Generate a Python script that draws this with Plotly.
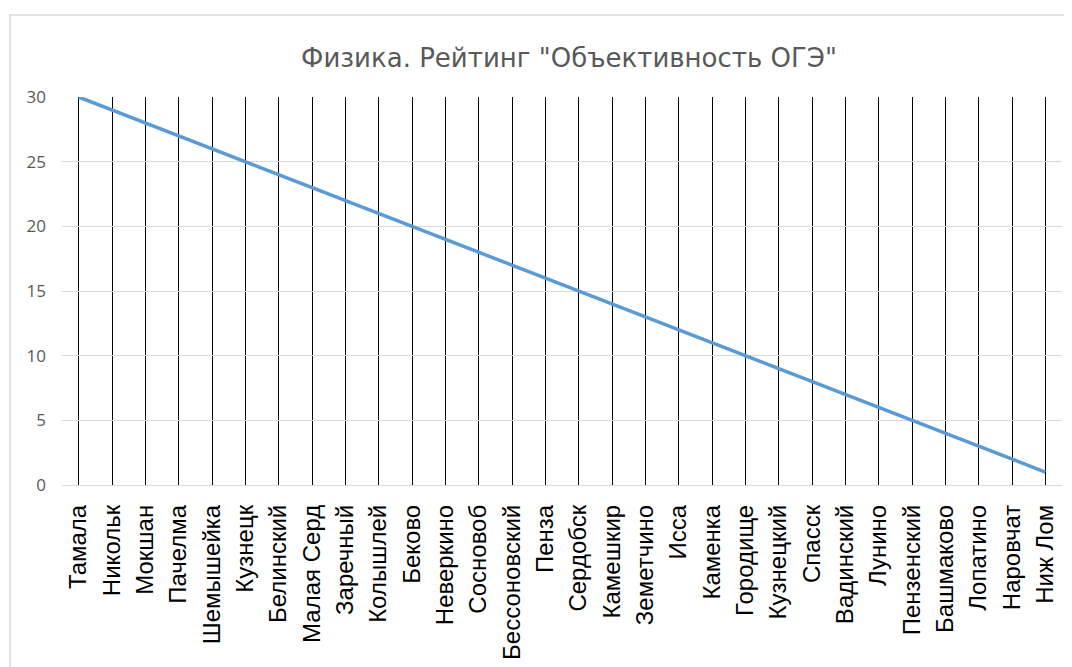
import plotly.graph_objects as go

categories = ["Тамала", "Никольк", "Мокшан", "Пачелма", "Шемышейка", "Кузнецк",
              "Белинский", "Малая Серд", "Заречный", "Колышлей", "Беково", "Неверкино",
              "Сосновоб", "Бессоновский", "Пенза", "Сердобск", "Камешкир", "Земетчино",
              "Исса", "Каменка", "Городище", "Кузнецкий", "Спасск", "Вадинский", "Лунино",
              "Пензенский", "Башмаково", "Лопатино", "Наровчат", "Ниж Лом"]
values = [30, 29, 28, 27, 26, 25, 24, 23, 22, 21, 20, 19, 18, 17, 16,
          15, 14, 13, 12, 11, 10, 9, 8, 7, 6, 5, 4, 3, 2, 1]
y_ticks = [0, 5, 10, 15, 20, 25, 30]
title_text = 'Физика. Рейтинг "Объективность ОГЭ"'

# page body has an 8px margin, so the figure is sized/positioned to compensate
OFF = 8
W, H = 1072 - OFF, 667 - OFF
L, R, T = 62 - OFF, 1072 - 1062, 97 - OFF
B = H - (485 - OFF)

fig = go.Figure()
fig.add_trace(go.Scatter(
    x=categories, y=values, mode="lines",
    line=dict(color="#5B9BD5", width=3.5),
    cliponaxis=False, showlegend=False, hoverinfo="x+y",
))

pw, ph = W - L - R, H - T - B
fig.add_shape(type="rect", xref="paper", yref="paper",
              x0=(10 - OFF - L) / pw, x1=(W + 30 - L) / pw,
              y0=-(B + 30) / ph, y1=(ph + T - (15 - OFF)) / ph,
              line=dict(color="#D9D9D9", width=1.5), fillcolor="rgba(0,0,0,0)", layer="below")

fig.update_layout(
    width=W, height=H,
    margin=dict(l=L, r=R, t=T, b=B, autoexpand=False),
    paper_bgcolor="white", plot_bgcolor="white",
    title=dict(text=title_text, x=(569 - OFF) / W, xanchor="center",
               y=1 - (58 - OFF) / H, yanchor="middle",
               font=dict(family="DejaVu Sans", size=26, color="#595959")),
    xaxis=dict(type="category", range=[-0.5, len(categories) - 0.5],
               showgrid=True, gridcolor="#000000", gridwidth=1,
               showline=False, ticks="", tickangle=-90,
               ticklabelstandoff=14,
               tickfont=dict(family="Liberation Sans", size=24, color="#000000"),
               zeroline=False),
    yaxis=dict(range=[0, 30], tickvals=y_ticks, showgrid=True,
               gridcolor="#D9D9D9", gridwidth=1, zeroline=True,
               zerolinecolor="#D9D9D9", zerolinewidth=1, showline=False, ticks="",
               ticklabelstandoff=15,
               tickfont=dict(family="Open Sans", size=17, color="#595959")),
)

fig.write_html("out.html")
